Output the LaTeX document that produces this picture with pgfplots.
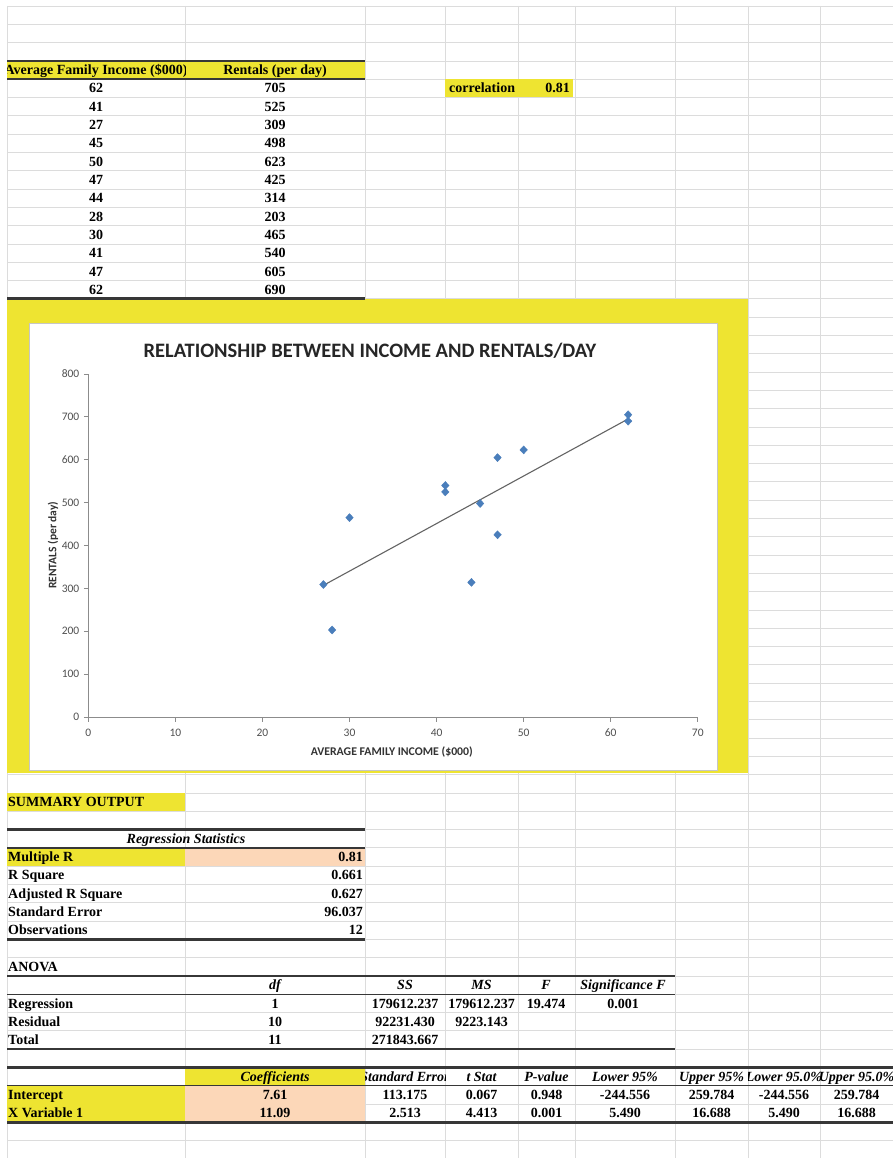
\documentclass[border=0pt]{standalone}
\usepackage{pgfplots}
\pgfplotsset{compat=1.18}
\usepackage{fontspec}
\setmainfont{Liberation Serif}
\newfontfamily\calibri{Carlito}
\definecolor{xlyellow}{RGB}{238,228,49}
\definecolor{xlpeach}{RGB}{252,215,184}
\definecolor{xlgrid}{RGB}{220,220,220}
\definecolor{xlborder}{RGB}{55,55,55}
\definecolor{markblue}{RGB}{74,126,187}
\definecolor{axisgray}{RGB}{140,140,140}
\definecolor{tickgray}{RGB}{80,80,80}
\definecolor{trendgray}{RGB}{100,100,100}
\newcommand\tf{\fontsize{14}{16}\selectfont\bfseries}
\newcommand\CC[3]{\node[anchor=base,inner sep=0pt] at (#1,{18.3*#2+19.8}) {#3};}
\newcommand\CL[3]{\node[anchor=base west,inner sep=0pt] at (#1,{18.3*#2+19.8}) {#3};}
\newcommand\CR[3]{\node[anchor=base east,inner sep=0pt] at (#1,{18.3*#2+19.8}) {#3};}
\newcommand\CI[3]{\node[anchor=base,inner sep=0pt] at (#1,{18.3*#2+19.8}) {\itshape #3};}
\newcommand\CX[4]{\begin{scope}\clip (#1,{6+18.3*#3}) rectangle (#2,{6+18.3*(#3+1)});
  \node[anchor=base,inner sep=0pt] at ({(#1+#2)/2},{18.3*#3+19.8}) {#4};\end{scope}}
\begin{document}
\begin{tikzpicture}
\begin{scope}[x=1pt,y=-1pt,font=\tf]
\useasboundingbox[fill=white] (0,0) rectangle (893,1158);
% grid
\foreach \k in {0,...,62} \draw[xlgrid,line width=0.7pt] (7,{6+18.3*\k}) -- (893,{6+18.3*\k});
\foreach \x in {7,185,365,445,518,575,675,748,820} \draw[xlgrid,line width=0.7pt] (\x,6) -- (\x,1158);
% fills
\fill[xlyellow] (7,60.9) rectangle (365,79.2);
\fill[xlyellow] (445,79.2) rectangle (573,97.5);
\fill[xlyellow] (7,298.8) rectangle (748,773);
\fill[white] (29,323) rectangle (717,770);
\draw[gray!45,line width=0.8pt] (29,323) rectangle (717,770);
\fill[xlyellow] (7,792.9) rectangle (185,811.2);
\fill[xlyellow] (7,847.8) rectangle (185,866.1);
\fill[xlpeach] (185,847.8) rectangle (365,866.1);
\fill[xlyellow] (185,1067.4) rectangle (365,1085.7);
\fill[xlyellow] (7,1085.7) rectangle (185,1122.3);
\fill[xlpeach] (185,1085.7) rectangle (365,1122.3);
% borders
\draw[xlborder,line width=2.4pt] (7,60.9) -- (365,60.9);
\draw[xlborder,line width=1.6pt] (7,79.2) -- (365,79.2);
\draw[xlborder,line width=2.4pt] (7,298.3) -- (365,298.3);
\draw[xlborder,line width=2.4pt] (7,829.5) -- (365,829.5);
\draw[xlborder,line width=1.4pt] (7,847.8) -- (365,847.8);
\draw[xlborder,line width=2.4pt] (7,939.3) -- (365,939.3);
\draw[xlborder,line width=2.4pt] (7,975.9) -- (675,975.9);
\draw[xlborder,line width=1.4pt] (7,994.2) -- (675,994.2);
\draw[xlborder,line width=2.4pt] (7,1049.1) -- (675,1049.1);
\draw[xlborder,line width=2.4pt] (7,1067.4) -- (893,1067.4);
\draw[xlborder,line width=1.4pt] (7,1085.7) -- (893,1085.7);
\draw[xlborder,line width=2.4pt] (7,1122.3) -- (893,1122.3);
% data table
\CX{7}{185}{3}{Average Family Income (\$000)}
\CC{275}{3}{Rentals (per day)}
\CC{96}{4}{62}\CC{275}{4}{705}
\CC{96}{5}{41}\CC{275}{5}{525}
\CC{96}{6}{27}\CC{275}{6}{309}
\CC{96}{7}{45}\CC{275}{7}{498}
\CC{96}{8}{50}\CC{275}{8}{623}
\CC{96}{9}{47}\CC{275}{9}{425}
\CC{96}{10}{44}\CC{275}{10}{314}
\CC{96}{11}{28}\CC{275}{11}{203}
\CC{96}{12}{30}\CC{275}{12}{465}
\CC{96}{13}{41}\CC{275}{13}{540}
\CC{96}{14}{47}\CC{275}{14}{605}
\CC{96}{15}{62}\CC{275}{15}{690}
\CL{449}{4}{correlation}\CR{570}{4}{0.81}
% summary output
\CL{8}{43}{SUMMARY OUTPUT}
\CI{186}{45}{Regression Statistics}
\CL{8}{46}{Multiple R}\CR{363}{46}{0.81}
\CL{8}{47}{R Square}\CR{363}{47}{0.661}
\CL{8}{48}{Adjusted R Square}\CR{363}{48}{0.627}
\CL{8}{49}{Standard Error}\CR{363}{49}{96.037}
\CL{8}{50}{Observations}\CR{363}{50}{12}
% anova
\CL{8}{52}{ANOVA}
\CI{275}{53}{df}\CI{405}{53}{SS}\CI{481.5}{53}{MS}\CI{546}{53}{F}\CI{623}{53}{Significance F}
\CL{8}{54}{Regression}\CC{275}{54}{1}\CC{405}{54}{179612.237}\CC{481.5}{54}{179612.237}\CC{546}{54}{19.474}\CC{623}{54}{0.001}
\CL{8}{55}{Residual}\CC{275}{55}{10}\CC{405}{55}{92231.430}\CC{481.5}{55}{9223.143}
\CL{8}{56}{Total}\CC{275}{56}{11}\CC{405}{56}{271843.667}
% coefficients
\CI{275}{58}{Coefficients}
\CX{365}{445}{58}{\itshape Standard Error}
\CI{481.5}{58}{t Stat}
\CI{546.5}{58}{P-value}
\CI{625}{58}{Lower 95\%}
\CX{675}{748}{58}{\itshape Upper 95\%}
\CX{748}{820}{58}{\itshape Lower 95.0\%}
\CX{820}{893}{58}{\itshape Upper 95.0\%}
\CL{8}{59}{Intercept}\CC{275}{59}{7.61}\CC{405}{59}{113.175}\CC{481.5}{59}{0.067}\CC{546.5}{59}{0.948}\CC{625}{59}{-244.556}\CC{711.5}{59}{259.784}\CC{784}{59}{-244.556}\CC{856.5}{59}{259.784}
\CL{8}{60}{X Variable 1}\CC{275}{60}{11.09}\CC{405}{60}{2.513}\CC{481.5}{60}{4.413}\CC{546.5}{60}{0.001}\CC{625}{60}{5.490}\CC{711.5}{60}{16.688}\CC{784}{60}{5.490}\CC{856.5}{60}{16.688}
\end{scope}
\begin{axis}[
  at={(88.3pt,-717pt)}, anchor=south west, scale only axis,
  width=609.5pt, height=343pt,
  xmin=0, xmax=70, ymin=0, ymax=800,
  xtick={0,10,...,70}, ytick={0,100,...,800},
  axis lines*=left,
  axis line style={axisgray, line width=0.9pt},
  tick style={axisgray, line width=0.9pt},
  tick align=outside, major tick length=4.5pt,
  /pgf/number format/assume math mode=true,
  ticklabel style={font=\calibri\fontsize{11.5}{13}\selectfont, text=tickgray},
  xticklabel style={yshift=-4pt},
  yticklabel style={xshift=-1pt},
  title={RELATIONSHIP BETWEEN INCOME AND RENTALS/DAY},
  title style={at={(0.462,1.0292)}, anchor=base, font=\calibri\bfseries\fontsize{20.5}{24}\selectfont, text=black!85},
  xlabel={AVERAGE FAMILY INCOME (\$000)},
  xlabel style={at={(0.498,-0.1108)}, anchor=base, font=\calibri\bfseries\fontsize{11.8}{13}\selectfont, text=black!80},
  ylabel={RENTALS (per day)},
  ylabel style={at={(-0.0579,0.501)}, anchor=center, font=\calibri\bfseries\fontsize{11.5}{13}\selectfont, text=black!80},
]
\addplot[trendgray, line width=1.1pt] coordinates {(27,307.04) (62,695.19)};
\addplot[only marks, mark=diamond*, mark size=4pt, mark options={xscale=1.25, fill=markblue, draw=markblue}]
coordinates {(62,705) (41,525) (27,309) (45,498) (50,623) (47,425) (44,314) (28,203) (30,465) (41,540) (47,605) (62,690)};
\end{axis}
\end{tikzpicture}
\end{document}
